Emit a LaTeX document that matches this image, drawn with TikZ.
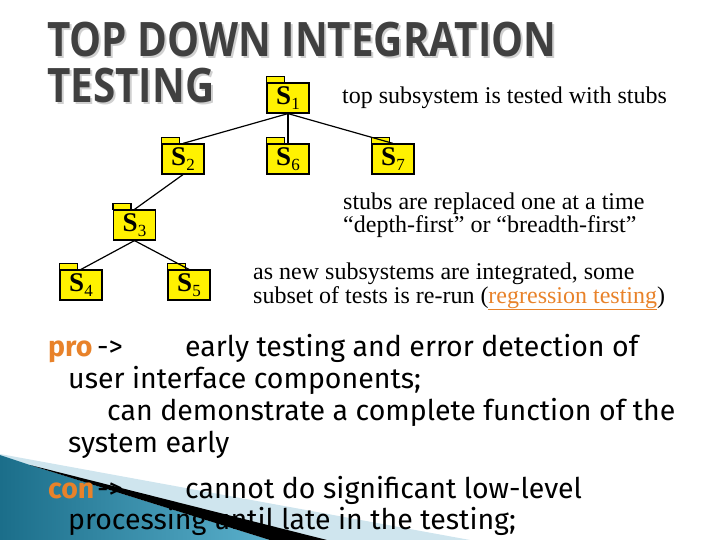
\documentclass[tikz,border=0pt]{standalone}
\usepackage{fontspec}
\setmainfont{Liberation Serif}
\newfontfamily\titlefont{Open Sans}[FakeStretch=0.85]
\newfontfamily\bodyfont{Fira Sans}
\definecolor{slideorange}{HTML}{E8822A}
\definecolor{titlegray}{HTML}{404040}
\definecolor{shadowgray}{HTML}{D0D0D0}
\definecolor{paleblue}{HTML}{CFE5EE}
\definecolor{deepteal}{HTML}{1B6E8A}
\definecolor{lightteal}{HTML}{5AB0CC}
\newcommand{\subidx}[1]{\raisebox{-5pt}{\fontsize{17}{17}\selectfont\mdseries #1}}

\begin{document}
\begin{tikzpicture}[x=1pt, y=-1pt,
        folder/.style={draw=black, line width=1.2pt, fill=yellow, minimum width=42pt,
            minimum height=30pt, inner sep=0pt,
            font=\fontsize{27}{27}\selectfont\bfseries},
        note/.style={anchor=base west, align=left, inner sep=0pt,
            font=\fontsize{24}{21}\selectfont},
        body/.style={anchor=base west, inner sep=0pt,
            font=\bodyfont\fontsize{28.5}{28.5}\selectfont},
        headline/.style={anchor=base west, inner sep=0pt,
            font=\titlefont\bfseries\fontsize{47.5}{47.5}\selectfont},
        link/.style={line width=1.2pt}]
        \useasboundingbox (0,0) rectangle (720,540);

        % CORNER DECORATION
        \fill[paleblue] (0,454) -- (470,540) -- (0,540) -- cycle;
        \shade[left color=deepteal, right color=lightteal]
            (0,455) -- (30,465) -- (270,540) -- (0,540) -- cycle;
        \fill[black] (30,465) -- (327,540) -- (270,540) -- cycle;

        % TITLE
        \node[headline, text=shadowgray] (title1shadow) at (49,59) {TOP DOWN INTEGRATION};
        \node[headline, text=shadowgray] (title2shadow) at (49,105) {TESTING};
        \node[headline, text=titlegray] (title1) at (47,57) {TOP DOWN INTEGRATION};
        \node[headline, text=titlegray] (title2) at (47,103) {TESTING};

        % SUBSYSTEMS
        \node[folder] (S1) at (288,98) {S\subidx{1}};
        \node[folder] (S2) at (183,159) {S\subidx{2}};
        \node[folder] (S6) at (288,159) {S\subidx{6}};
        \node[folder] (S7) at (393,159) {S\subidx{7}};
        \node[folder] (S3) at (134.5,225) {S\subidx{3}};
        \node[folder] (S4) at (81,285) {S\subidx{4}};
        \node[folder] (S5) at (189,285) {S\subidx{5}};
        % folder tabs
        \foreach \n in {S1,S2,S6,S7,S3,S4,S5}
            \draw[line width=1.2pt, fill=yellow] (\n.north west) rectangle ++(18,-6);

        % LINKS
        \draw[link] (S1.south) -- (S2.north);
        \draw[link] (S1.south) -- (S6.north);
        \draw[link] (S1.south) -- (S7.north);
        \draw[link] (S2.south) -- (S3.north);
        \draw[link] (S3.south) -- (S4.north);
        \draw[link] (S3.south) -- (S5.north);

        % NOTES (base = last line)
        \node[note] (topnote) at (342,104) {top subsystem is tested with stubs};
        \node[note] (stubnote) at (343,233)
            {stubs are replaced one at a time\\``depth-first'' or ``breadth-first''};
        \node[note] (regnote) at (253,303)
            {as new subsystems are integrated, some\\subset of tests is re-run
            (\textcolor{slideorange}{\underline{regression testing}})};

        % PRO / CON
        \node[body, text=slideorange, font=\bodyfont\bfseries\fontsize{28.5}{28.5}\selectfont]
            (pro) at (48,356) {pro};
        \node[body] (proarrow) at (97,356) {->};
        \node[body] (pro1) at (185,356) {early testing and error detection of};
        \node[body] (pro2) at (68,388) {user interface components;};
        \node[body] (pro3) at (107,420) {can demonstrate a complete function of the};
        \node[body] (pro4) at (68,452) {system early};
        \node[body, text=slideorange, font=\bodyfont\bfseries\fontsize{28.5}{28.5}\selectfont]
            (con) at (48,498) {con};
        \node[body] (conarrow) at (97,498) {->};
        \node[body] (con1) at (185,498) {cannot do significant low-level};
        \node[body] (con2) at (68,529) {processing until late in the testing;};
    \end{tikzpicture}
\end{document}
